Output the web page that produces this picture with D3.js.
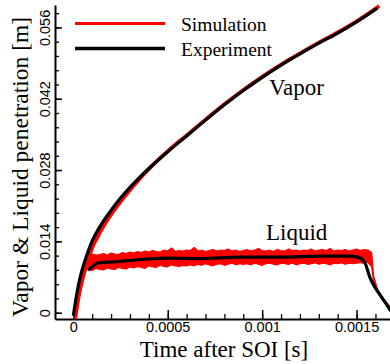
<!DOCTYPE html>
<html>
<head>
<meta charset="utf-8">
<script src="https://cdn.jsdelivr.net/npm/d3@7"></script>
<style>
  body { margin: 0; background: #fff; }
  .serif { font-family: "Liberation Serif", "Times New Roman", serif; fill: #000; }
  .tick text { font-family: "Liberation Sans", Arial, sans-serif; font-size: 14.5px; fill: #000; }
</style>
</head>
<body>
<div id="chart"></div>
<script>

  //--------------------------------------------------------------------------
  // Data
  //

  var vaporExpTime = [0, 0.00002, 0.00004, 0.00006, 0.00008, 0.0001, 0.00013, 0.00016, 0.0002, 0.00025,
    0.0003, 0.00035, 0.0004, 0.0005, 0.0006, 0.0007, 0.0008, 0.0009, 0.001, 0.0011, 0.0012,
    0.0013, 0.0014, 0.0015, 0.00161];
  var vaporExp = [-0.0006, 0.004, 0.0075, 0.01, 0.0122, 0.0141, 0.0162, 0.018, 0.0201, 0.0225,
    0.0246, 0.0265, 0.0283, 0.0316, 0.0347, 0.0378, 0.0408, 0.0436, 0.0462, 0.0486, 0.0508,
    0.0529, 0.0549, 0.0571, 0.0598];

  var vaporSimTime = [0.00001, 0.00003, 0.00005, 0.00007, 0.0001, 0.00013, 0.00016, 0.0002, 0.00025,
    0.0003, 0.00035, 0.0004, 0.0005, 0.0006, 0.0007, 0.0008, 0.0009, 0.001, 0.0011, 0.0012,
    0.0013, 0.0014, 0.0015, 0.00162];
  var vaporSim = [-0.0011, 0.0035, 0.0068, 0.0094, 0.0128, 0.015, 0.017, 0.0193, 0.0218,
    0.0241, 0.0262, 0.0282, 0.0317, 0.0348, 0.0379, 0.0409, 0.0437, 0.0463, 0.0487, 0.0509,
    0.053, 0.055, 0.0572, 0.0602];

  var liquidExpTime = [0.000078, 0.000136, 0.000226, 0.000316, 0.000385, 0.000512, 0.00067, 0.000882,
    0.001094, 0.001306, 0.001465, 0.001507, 0.001544, 0.00157, 0.001597, 0.001624, 0.001661, 0.001682];
  var liquidExp = [0.0083, 0.0098, 0.01, 0.0103, 0.0105, 0.0107, 0.0106, 0.0109,
    0.0109, 0.0111, 0.0111, 0.0109, 0.0098, 0.007, 0.005, 0.0035, 0.0015, 0.0003];

  // simulated liquid length is noisy: kept as upper / lower envelope of the trace
  var liquidSimTime = [0.000009, 0.00003, 0.00006,
    0.00008, 0.0001, 0.00012, 0.00014, 0.00016, 0.00018, 0.0002, 0.00022, 0.00024, 0.00026, 0.00028,
    0.0003, 0.00032, 0.00034, 0.00036, 0.00038, 0.0004, 0.00042, 0.00044, 0.00046, 0.00048,
    0.0005, 0.00052, 0.00054, 0.00056, 0.00058, 0.0006, 0.00062, 0.00064, 0.00066, 0.00068,
    0.0007, 0.00072, 0.00074, 0.00076, 0.00078, 0.0008, 0.00082, 0.00084, 0.00086, 0.00088,
    0.0009, 0.00092, 0.00094, 0.00096, 0.00098, 0.001, 0.00102, 0.00104, 0.00106, 0.00108,
    0.0011, 0.00112, 0.00114, 0.00116, 0.00118, 0.0012, 0.00122, 0.00124, 0.00126, 0.00128,
    0.0013, 0.00132, 0.00134, 0.00136, 0.00138, 0.0014, 0.00142, 0.00144, 0.00146, 0.00148,
    0.0015, 0.00152, 0.00154, 0.00156,
    0.00158, 0.00159, 0.00161, 0.00164, 0.00168];
  var liquidSimHigh = [-0.0011, 0.0031, 0.0085,
    0.0112, 0.0115, 0.0113, 0.0114, 0.0116, 0.0113, 0.0117, 0.0115, 0.0114, 0.0118, 0.0116,
    0.0119, 0.0117, 0.012, 0.0118, 0.0121, 0.0119, 0.0122, 0.012, 0.0119, 0.0123,
    0.0121, 0.0127, 0.012, 0.0122, 0.0121, 0.0123, 0.0122, 0.0128, 0.0121, 0.0123,
    0.012, 0.0122, 0.0124, 0.0121, 0.0123, 0.0122, 0.0125, 0.0121, 0.0123, 0.012,
    0.0122, 0.0124, 0.0121, 0.0123, 0.0126, 0.0122, 0.0121, 0.0123, 0.012, 0.0124,
    0.0122, 0.0121, 0.0125, 0.0122, 0.0123, 0.0121, 0.0123, 0.0122, 0.0125, 0.0121,
    0.0123, 0.0124, 0.0122, 0.0126, 0.0121, 0.0123, 0.0122, 0.0124, 0.0121, 0.0123,
    0.0125, 0.0122, 0.0124, 0.0123,
    0.0118, 0.0072, 0.0047, 0.0028, 0.0011];
  var liquidSimLow = [-0.0011, 0.0031, 0.0085,
    0.0086, 0.0083, 0.0087, 0.0085, 0.0084, 0.0088, 0.0086, 0.0085, 0.0089, 0.0087, 0.0086,
    0.009, 0.0088, 0.0091, 0.0089, 0.0087, 0.0092, 0.009, 0.0089, 0.0093, 0.0091,
    0.009, 0.0094, 0.0092, 0.0091, 0.0093, 0.0092, 0.0094, 0.0092, 0.0095, 0.0093,
    0.0096, 0.0094, 0.0092, 0.0095, 0.0096, 0.0093, 0.0095, 0.0097, 0.0094, 0.0096,
    0.0095, 0.0096, 0.0094, 0.0097, 0.0095, 0.0093, 0.0096, 0.0097, 0.0095, 0.0094,
    0.0097, 0.0096, 0.0095, 0.0097, 0.0094, 0.0096, 0.0097, 0.0095, 0.0096, 0.0098,
    0.0095, 0.0097, 0.0096, 0.0094, 0.0097, 0.0096, 0.0098, 0.0095, 0.0097, 0.0096,
    0.0097, 0.0098, 0.0097, 0.0099,
    0.009, 0.0062, 0.0042, 0.0025, 0.0011];

  var xTicks = [0, 0.0005, 0.001, 0.0015];
  var xTickLabels = ["0", "0.0005", "0.001", "0.0015"];
  var yTicks = [0, 0.014, 0.028, 0.042, 0.056];
  var yTickLabels = ["0", "0.014", "0.028", "0.042", "0.056"];

  var seriesNames = ["Simulation", "Experiment"];
  var seriesColors = ["#ff0000", "#000000"];

  //--------------------------------------------------------------------------
  // Area Definition
  //

  var width = 390, height = 364;
  var plot = { left: 55, right: 390, top: 5, bottom: 319 };

  var svg = d3.select("#chart").append("svg")
      .attr("width", width)
      .attr("height", height);

  var x = d3.scaleLinear().domain([-0.000097, 0.001677]).range([plot.left, plot.right]);
  var y = d3.scaleLinear().domain([-0.00124, 0.0604]).range([plot.bottom, plot.top]);

  // minor ticks
  svg.append("g")
      .attr("transform", "translate(0," + plot.bottom + ")")
      .call(d3.axisBottom(x).tickValues(d3.range(0, 0.00165, 0.0001)).tickSize(-5).tickSizeOuter(0).tickFormat(""))
      .call(function(g) { g.select(".domain").remove(); g.selectAll("text").remove(); })
      .selectAll("line").attr("stroke-width", 1.3);

  svg.append("g")
      .attr("transform", "translate(" + plot.left + ",0)")
      .call(d3.axisLeft(y).tickValues(d3.range(0, 0.0595, 0.0028)).tickSize(-4).tickSizeOuter(0).tickFormat(""))
      .call(function(g) { g.select(".domain").remove(); g.selectAll("text").remove(); })
      .selectAll("line").attr("stroke-width", 1.3);

  // major ticks + labels
  var xAxis = svg.append("g")
      .attr("transform", "translate(0," + plot.bottom + ")")
      .call(d3.axisBottom(x).tickValues(xTicks).tickSize(-9).tickSizeOuter(0)
        .tickFormat(function(d, i) { return xTickLabels[i]; }));
  xAxis.select(".domain").attr("stroke-width", 2);
  xAxis.selectAll(".tick line").attr("stroke-width", 1.5);
  xAxis.selectAll(".tick text").attr("y", 13).attr("dy", null);

  var yAxis = svg.append("g")
      .attr("transform", "translate(" + plot.left + ",0)")
      .call(d3.axisLeft(y).tickValues(yTicks).tickSize(-7).tickSizeOuter(0)
        .tickFormat(function(d, i) { return yTickLabels[i]; }));
  yAxis.select(".domain").attr("stroke-width", 2);
  yAxis.selectAll(".tick line").attr("stroke-width", 1.5);
  yAxis.selectAll(".tick text")
      .attr("x", 0)
      .attr("dy", null)
      .attr("y", -5.5)
      .attr("transform", "rotate(-90)")
      .attr("text-anchor", "middle");

  //--------------------------------------------------------------------------
  // Curves
  //

  var line = d3.line()
      .x(function(d) { return x(d[0]); })
      .y(function(d) { return y(d[1]); })
      .curve(d3.curveMonotoneX);

  var band = d3.area()
      .x(function(d) { return x(d[0]); })
      .y0(function(d) { return y(d[2]); })
      .y1(function(d) { return y(d[1]); });

  var liquidSimData = liquidSimTime.map(function(t, i) { return [t, liquidSimHigh[i], liquidSimLow[i]]; });

  svg.append("path")
      .datum(liquidSimData)
      .attr("d", band)
      .attr("fill", seriesColors[0])
      .attr("stroke", seriesColors[0])
      .attr("stroke-width", 1.2)
      .attr("stroke-linejoin", "round");

  svg.append("path")
      .datum(d3.zip(vaporSimTime, vaporSim))
      .attr("d", line)
      .attr("fill", "none")
      .attr("stroke", seriesColors[0])
      .attr("stroke-width", 3.8);

  svg.append("path")
      .datum(d3.zip(liquidExpTime, liquidExp))
      .attr("d", line)
      .attr("fill", "none")
      .attr("stroke", seriesColors[1])
      .attr("stroke-width", 3.2);

  svg.append("path")
      .datum(d3.zip(vaporExpTime, vaporExp))
      .attr("d", line)
      .attr("fill", "none")
      .attr("stroke", seriesColors[1])
      .attr("stroke-width", 3.2);

  //--------------------------------------------------------------------------
  // Legend and labels
  //

  var legend = svg.append("g").attr("class", "legend");
  seriesNames.forEach(function(name, i) {
    var ly = 23.5 + i * 25;
    legend.append("line")
        .attr("x1", 75).attr("x2", 165)
        .attr("y1", ly).attr("y2", ly)
        .attr("stroke", seriesColors[i])
        .attr("stroke-width", i === 0 ? 3 : 3.6);
    legend.append("text")
        .attr("class", "serif")
        .attr("x", 181).attr("y", ly + 7)
        .attr("font-size", "19.5px")
        .text(name);
  });

  svg.append("text").attr("class", "serif")
      .attr("x", 269).attr("y", 95)
      .attr("font-size", "23px")
      .text("Vapor");

  svg.append("text").attr("class", "serif")
      .attr("x", 266).attr("y", 240)
      .attr("font-size", "23px")
      .text("Liquid");

  svg.append("text").attr("class", "serif")
      .attr("x", 224).attr("y", 357)
      .attr("text-anchor", "middle")
      .attr("font-size", "23px")
      .text("Time after SOI [s]");

  svg.append("text").attr("class", "serif")
      .attr("transform", "translate(28,167) rotate(-90)")
      .attr("text-anchor", "middle")
      .attr("font-size", "23.5px")
      .text("Vapor & Liquid penetration [m]");

</script>
</body>
</html>
